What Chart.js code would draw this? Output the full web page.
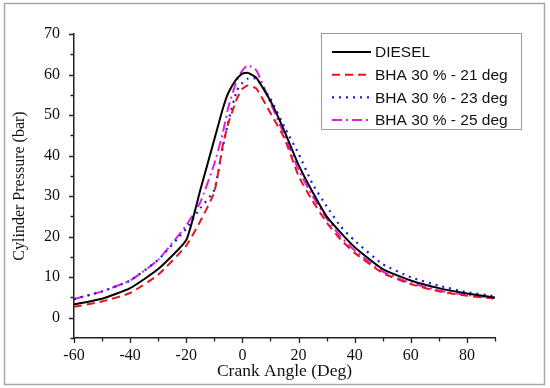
<!DOCTYPE html>
<html>
<head>
<meta charset="utf-8">
<script src="https://cdn.jsdelivr.net/npm/chart.js@4/dist/chart.umd.min.js"></script>
<style>
  html, body { margin: 0; padding: 0; background: #fff; }
  #wrap { width: 550px; height: 388px; position: relative; }
</style>
</head>
<body>
<div id="wrap"><canvas id="chart"></canvas></div>
<script>
// crank angle (deg) shared by all curves
const angles = [-60, -50, -40, -30, -20, -15, -10, -7, -5, -2, 0, 2, 5, 10, 15, 20, 25, 30, 35, 40, 50, 60, 70, 80, 90];

// cylinder pressure (bar)
const diesel = [3.3, 4.7, 7.3, 12.0, 19.2, 31.5, 44.0, 51.5, 55.5, 59.0, 60.2, 60.4, 59.2, 53.5, 46.0, 37.7, 31.0, 25.0, 21.0, 17.4, 12.0, 9.2, 7.3, 6.0, 5.0];
const bha21 = [2.7, 4.0, 6.1, 10.6, 17.8, 23.8, 31.0, 42.5, 48.0, 54.0, 56.5, 57.3, 56.5, 50.5, 44.2, 35.0, 28.8, 23.5, 19.3, 16.0, 11.0, 8.3, 6.5, 5.4, 4.7];
const bha23 = [4.6, 6.5, 9.2, 14.3, 22.0, 27.0, 31.5, 42.0, 48.5, 56.0, 58.0, 59.0, 59.0, 54.0, 47.0, 40.5, 33.0, 27.5, 22.5, 19.0, 13.2, 10.0, 7.9, 6.3, 5.3];
const bha25 = [4.6, 6.5, 9.2, 14.3, 22.8, 28.5, 38.0, 45.5, 52.0, 58.5, 61.0, 62.3, 61.0, 53.0, 45.0, 36.5, 30.0, 24.5, 20.0, 16.6, 11.4, 8.6, 6.7, 5.6, 4.9];

const seriesLabels = ['DIESEL', 'BHA 30 % - 21 deg', 'BHA 30 % - 23 deg', 'BHA 30 % - 25 deg'];

const xMajor = [-60, -40, -20, 0, 20, 40, 60, 80];
const xMinor = [-50, -30, -10, 10, 30, 50, 70, 90];
const yMajor = [0, 10, 20, 30, 40, 50, 60, 70];
const yMinor = [-5, 5, 15, 25, 35, 45, 55, 65];

const toPoints = vals => angles.map((a, i) => ({ x: a, y: vals[i] }));

const AXIS_COLOR = '#222';
const TEXT_COLOR = '#111';

// outward tick marks (major + minor), drawn on the library's scales
const tickMarks = {
    id: 'tickMarks',
    afterDraw(chart) {
        const { ctx, chartArea } = chart;
        const xs = chart.scales.x, ys = chart.scales.y;
        ctx.save();
        ctx.strokeStyle = AXIS_COLOR;
        ctx.lineWidth = 1.3;
        ctx.beginPath();
        xMajor.concat(xMinor).forEach(v => {
            const len = xMajor.includes(v) ? 5 : 3.5;
            const px = Math.round(xs.getPixelForValue(v)) + 0.5;
            ctx.moveTo(px, chartArea.bottom);
            ctx.lineTo(px, chartArea.bottom + len);
        });
        yMajor.concat(yMinor).forEach(v => {
            const len = yMajor.includes(v) ? 5 : 3.5;
            const py = Math.round(ys.getPixelForValue(v)) + 0.5;
            ctx.moveTo(chartArea.left, py);
            ctx.lineTo(chartArea.left - len, py);
        });
        ctx.stroke();
        ctx.restore();
    }
};

// framed legend box in the upper right, drawn from the datasets
const boxLegend = {
    id: 'boxLegend',
    afterDraw(chart) {
        const { ctx } = chart;
        const bx = 321.5, by = 33.5, bw = 200, bh = 96;
        ctx.save();
        ctx.fillStyle = '#fff';
        ctx.fillRect(bx, by, bw, bh);
        ctx.strokeStyle = '#9a9a9a';
        ctx.lineWidth = 1;
        ctx.strokeRect(bx, by, bw, bh);
        ctx.font = '15.5px "Liberation Sans", Arial, sans-serif';
        ctx.textBaseline = 'middle';
        chart.data.datasets.forEach((ds, i) => {
            const y = 52 + i * 22.7;
            ctx.beginPath();
            ctx.strokeStyle = ds.borderColor;
            ctx.lineWidth = ds.borderWidth;
            ctx.setLineDash(ds.borderDash || []);
            ctx.moveTo(332, y);
            ctx.lineTo(371, y);
            ctx.stroke();
            ctx.setLineDash([]);
            ctx.fillStyle = '#111';
            ctx.fillText(ds.label, 375, y + 1);
        });
        ctx.restore();
    }
};

// thin grey frame around the whole picture
const frame = {
    id: 'frame',
    afterDraw(chart) {
        const { ctx } = chart;
        ctx.save();
        ctx.strokeStyle = '#a8a8a8';
        ctx.lineWidth = 1.5;
        ctx.strokeRect(4.5, 3.5, 540, 381);
        ctx.restore();
    }
};

const serif = '"Liberation Serif", "Times New Roman", serif';

new Chart(document.getElementById('chart'), {
    type: 'line',
    data: {
        datasets: [
            { label: seriesLabels[0], data: toPoints(diesel), borderColor: '#000000', borderWidth: 2, borderDash: [] },
            { label: seriesLabels[1], data: toPoints(bha21), borderColor: '#e8141c', borderWidth: 2, borderDash: [8, 5] },
            { label: seriesLabels[2], data: toPoints(bha23), borderColor: '#1c1ccf', borderWidth: 2.2, borderDash: [2, 5] },
            { label: seriesLabels[3], data: toPoints(bha25), borderColor: '#e020e0', borderWidth: 2, borderDash: [10, 4, 2, 4] }
        ].map(ds => Object.assign(ds, { fill: false, pointRadius: 0, tension: 0.15 }))
    },
    options: {
        responsive: true,
        maintainAspectRatio: false,
        animation: false,
        layout: { padding: { top: 34, right: 55, left: 0, bottom: 0 } },
        plugins: {
            legend: { display: false },
            tooltip: { enabled: false }
        },
        scales: {
            x: {
                type: 'linear',
                min: -60,
                max: 90,
                afterBuildTicks: s => { s.ticks = xMajor.map(v => ({ value: v })); },
                afterFit: s => { s.height = 50; },
                grid: { display: false, drawTicks: false },
                border: { display: true, color: AXIS_COLOR, width: 1.5 },
                ticks: { padding: 8, color: TEXT_COLOR, font: { family: serif, size: 16 }, maxRotation: 0 },
                title: { display: true, text: 'Crank Angle (Deg)', color: TEXT_COLOR, font: { family: serif, size: 17.5 }, padding: { top: 0, bottom: 6 } }
            },
            y: {
                type: 'linear',
                min: -5,
                max: 70,
                afterBuildTicks: s => { s.ticks = yMajor.map(v => ({ value: v })); },
                afterFit: s => { s.width = 74; },
                grid: { display: false, drawTicks: false },
                border: { display: true, color: AXIS_COLOR, width: 1.5 },
                ticks: { padding: 14, color: TEXT_COLOR, font: { family: serif, size: 16 } },
                title: { display: true, text: 'Cylinder Pressure (bar)', color: TEXT_COLOR, font: { family: serif, size: 16 }, padding: { top: 10, bottom: 0 } }
            }
        }
    },
    plugins: [tickMarks, boxLegend, frame]
});
</script>
</body>
</html>
